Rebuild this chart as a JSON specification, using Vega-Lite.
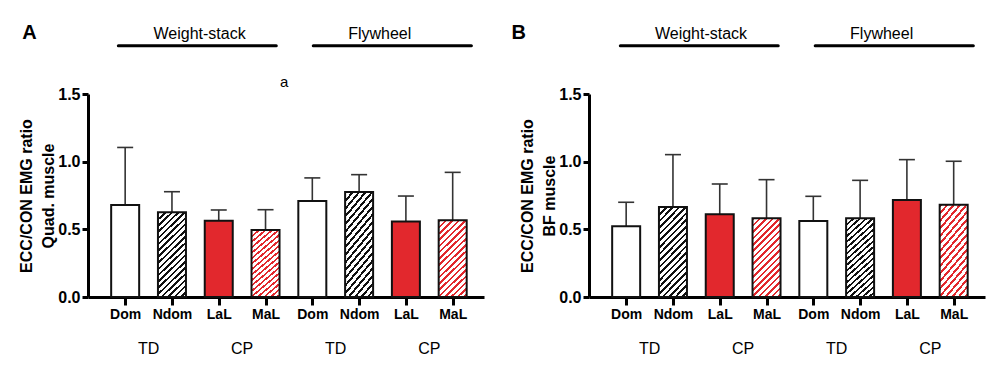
{
 "$schema": "https://vega.github.io/schema/vega-lite/v6.json",
 "padding": {"left": 18, "top": 22, "right": 2, "bottom": 2},
 "background": "white",
 "spacing": 27,
 "datasets": {
  "bars": [
   {"panel":"A","idx":1,"cond":"Dom","mean":0.68,"upper":1.105},
   {"panel":"A","idx":2,"cond":"Ndom","mean":0.626,"upper":0.778},
   {"panel":"A","idx":3,"cond":"LaL","mean":0.564,"upper":0.643},
   {"panel":"A","idx":4,"cond":"MaL","mean":0.495,"upper":0.645},
   {"panel":"A","idx":5,"cond":"Dom","mean":0.71,"upper":0.88},
   {"panel":"A","idx":6,"cond":"Ndom","mean":0.776,"upper":0.904},
   {"panel":"A","idx":7,"cond":"LaL","mean":0.557,"upper":0.746},
   {"panel":"A","idx":8,"cond":"MaL","mean":0.567,"upper":0.921},
   {"panel":"B","idx":1,"cond":"Dom","mean":0.522,"upper":0.70},
   {"panel":"B","idx":2,"cond":"Ndom","mean":0.665,"upper":1.052},
   {"panel":"B","idx":3,"cond":"LaL","mean":0.611,"upper":0.835},
   {"panel":"B","idx":4,"cond":"MaL","mean":0.582,"upper":0.867},
   {"panel":"B","idx":5,"cond":"Dom","mean":0.562,"upper":0.744},
   {"panel":"B","idx":6,"cond":"Ndom","mean":0.582,"upper":0.862},
   {"panel":"B","idx":7,"cond":"LaL","mean":0.717,"upper":1.015},
   {"panel":"B","idx":8,"cond":"MaL","mean":0.682,"upper":1.003}
  ],
  "heads": [
   {"panel":"A","label":"Weight-stack","xt":2.59,"x1":0.854,"x2":4.23},
   {"panel":"A","label":"Flywheel","xt":6.44,"x1":5.02,"x2":8.40},
   {"panel":"B","label":"Weight-stack","xt":2.6,"x1":0.875,"x2":4.25},
   {"panel":"B","label":"Flywheel","xt":6.46,"x1":5.04,"x2":8.42}
  ],
  "groups": [
   {"panel":"A","label":"TD","x":1.5},{"panel":"A","label":"CP","x":3.5},
   {"panel":"A","label":"TD","x":5.5},{"panel":"A","label":"CP","x":7.5},
   {"panel":"B","label":"TD","x":1.5},{"panel":"B","label":"CP","x":3.5},
   {"panel":"B","label":"TD","x":5.5},{"panel":"B","label":"CP","x":7.5}
  ],
  "letters": [
   {"panel":"A","label":"A","x":-1.2},
   {"panel":"B","label":"B","x":-1.45}
  ],
  "notes": [
   {"panel":"A","label":"a","x":4.40}
  ]
 },
 "config": {
  "view": {"stroke": null},
  "font": "Liberation Sans",
  "text": {"font": "Liberation Sans", "color": "#000"},
  "axis": {"domainColor":"#000","domainWidth":3,"tickColor":"#000","tickWidth":3,"labelColor":"#000","labelFont":"Liberation Sans","labelFontWeight":"bold","grid":false,"titleFont":"Liberation Sans","titleFontWeight":"bold","titleColor":"#000","labelFlush":false},
  "axisX": {"tickSize":8,"labelFontSize":14,"labelPadding":2},
  "axisY": {"tickSize":6,"labelFontSize":16,"labelPadding":2,"titleFontSize":16,"titleLineHeight":22,"titlePadding":1}
 },
 "hconcat": [
  {
   "width": 396, "height": 203,
   "data": {"name": "bars"},
   "transform": [{"filter": "datum.panel==='A'"}],
   "encoding": {
    "x": {"field": "idx", "type": "quantitative", "scale": {"domain": [0.3125, 8.5625], "nice": false, "zero": false},
          "axis": {"values": [1,2,3,4,5,6,7,8], "labelExpr": "['Dom','Ndom','LaL','MaL'][(datum.value-1)%4]", "title": null}}
   },
   "layer": [
    {"mark": {"type": "rule", "color": "#333", "strokeWidth": 1.6},
     "encoding": {"y": {"field": "mean", "type": "quantitative", "scale": {"domain": [0, 1.5], "nice": false, "zero": true},
       "axis": {"values": [0, 0.5, 1, 1.5], "format": ".1f", "title": ["ECC/CON EMG ratio", "Quad. muscle"]}},
      "y2": {"field": "upper"}}},
    {"transform": [{"filter": "datum.cond==='Dom'||datum.cond==='LaL'"}],
     "mark": {"type": "bar", "orient": "vertical", "size": 28, "stroke": "#111", "strokeWidth": 2},
     "encoding": {"y": {"field": "mean", "type": "quantitative"},
      "fill": {"condition": {"test": "datum.cond==='LaL'", "value": "#e2282d"}, "value": "#ffffff"}}},
    {"transform": [{"filter": "datum.cond==='Ndom'"}],
     "mark": {"type": "bar", "orient": "vertical", "size": 28, "stroke": "#111", "strokeWidth": 2,
      "fill": {"gradient":"linear","x1":0,"y1":0,"x2":0.3809,"y2":1.197,"stops":[
    {"offset":0,"color":"#111"},{"offset":0.0222,"color":"#111"},{"offset":0.0222,"color":"#fff"},{"offset":0.0556,"color":"#fff"},
    {"offset":0.0556,"color":"#111"},{"offset":0.0778,"color":"#111"},{"offset":0.0778,"color":"#fff"},{"offset":0.1111,"color":"#fff"},
    {"offset":0.1111,"color":"#111"},{"offset":0.1333,"color":"#111"},{"offset":0.1333,"color":"#fff"},{"offset":0.1667,"color":"#fff"},
    {"offset":0.1667,"color":"#111"},{"offset":0.1889,"color":"#111"},{"offset":0.1889,"color":"#fff"},{"offset":0.2222,"color":"#fff"},
    {"offset":0.2222,"color":"#111"},{"offset":0.2444,"color":"#111"},{"offset":0.2444,"color":"#fff"},{"offset":0.2778,"color":"#fff"},
    {"offset":0.2778,"color":"#111"},{"offset":0.3,"color":"#111"},{"offset":0.3,"color":"#fff"},{"offset":0.3333,"color":"#fff"},
    {"offset":0.3333,"color":"#111"},{"offset":0.3556,"color":"#111"},{"offset":0.3556,"color":"#fff"},{"offset":0.3889,"color":"#fff"},
    {"offset":0.3889,"color":"#111"},{"offset":0.4111,"color":"#111"},{"offset":0.4111,"color":"#fff"},{"offset":0.4444,"color":"#fff"},
    {"offset":0.4444,"color":"#111"},{"offset":0.4667,"color":"#111"},{"offset":0.4667,"color":"#fff"},{"offset":0.5,"color":"#fff"},
    {"offset":0.5,"color":"#111"},{"offset":0.5222,"color":"#111"},{"offset":0.5222,"color":"#fff"},{"offset":0.5556,"color":"#fff"},
    {"offset":0.5556,"color":"#111"},{"offset":0.5778,"color":"#111"},{"offset":0.5778,"color":"#fff"},{"offset":0.6111,"color":"#fff"},
    {"offset":0.6111,"color":"#111"},{"offset":0.6333,"color":"#111"},{"offset":0.6333,"color":"#fff"},{"offset":0.6667,"color":"#fff"},
    {"offset":0.6667,"color":"#111"},{"offset":0.6889,"color":"#111"},{"offset":0.6889,"color":"#fff"},{"offset":0.7222,"color":"#fff"},
    {"offset":0.7222,"color":"#111"},{"offset":0.7444,"color":"#111"},{"offset":0.7444,"color":"#fff"},{"offset":0.7778,"color":"#fff"},
    {"offset":0.7778,"color":"#111"},{"offset":0.8,"color":"#111"},{"offset":0.8,"color":"#fff"},{"offset":0.8333,"color":"#fff"},
    {"offset":0.8333,"color":"#111"},{"offset":0.8556,"color":"#111"},{"offset":0.8556,"color":"#fff"},{"offset":0.8889,"color":"#fff"},
    {"offset":0.8889,"color":"#111"},{"offset":0.9111,"color":"#111"},{"offset":0.9111,"color":"#fff"},{"offset":0.9444,"color":"#fff"},
    {"offset":0.9444,"color":"#111"},{"offset":0.9667,"color":"#111"},{"offset":0.9667,"color":"#fff"},{"offset":1,"color":"#fff"}]}},
     "encoding": {"y": {"field": "mean", "type": "quantitative"}}},
    {"transform": [{"filter": "datum.cond==='MaL'"}],
     "mark": {"type": "bar", "orient": "vertical", "size": 28, "stroke": "#111", "strokeWidth": 2,
      "fill": {"gradient":"linear","x1":0,"y1":0,"x2":0.4623,"y2":1.3045,"stops":[
    {"offset":0,"color":"#e2282d"},{"offset":0.0222,"color":"#e2282d"},{"offset":0.0222,"color":"#fff"},{"offset":0.0556,"color":"#fff"},
    {"offset":0.0556,"color":"#e2282d"},{"offset":0.0778,"color":"#e2282d"},{"offset":0.0778,"color":"#fff"},{"offset":0.1111,"color":"#fff"},
    {"offset":0.1111,"color":"#e2282d"},{"offset":0.1333,"color":"#e2282d"},{"offset":0.1333,"color":"#fff"},{"offset":0.1667,"color":"#fff"},
    {"offset":0.1667,"color":"#e2282d"},{"offset":0.1889,"color":"#e2282d"},{"offset":0.1889,"color":"#fff"},{"offset":0.2222,"color":"#fff"},
    {"offset":0.2222,"color":"#e2282d"},{"offset":0.2444,"color":"#e2282d"},{"offset":0.2444,"color":"#fff"},{"offset":0.2778,"color":"#fff"},
    {"offset":0.2778,"color":"#e2282d"},{"offset":0.3,"color":"#e2282d"},{"offset":0.3,"color":"#fff"},{"offset":0.3333,"color":"#fff"},
    {"offset":0.3333,"color":"#e2282d"},{"offset":0.3556,"color":"#e2282d"},{"offset":0.3556,"color":"#fff"},{"offset":0.3889,"color":"#fff"},
    {"offset":0.3889,"color":"#e2282d"},{"offset":0.4111,"color":"#e2282d"},{"offset":0.4111,"color":"#fff"},{"offset":0.4444,"color":"#fff"},
    {"offset":0.4444,"color":"#e2282d"},{"offset":0.4667,"color":"#e2282d"},{"offset":0.4667,"color":"#fff"},{"offset":0.5,"color":"#fff"},
    {"offset":0.5,"color":"#e2282d"},{"offset":0.5222,"color":"#e2282d"},{"offset":0.5222,"color":"#fff"},{"offset":0.5556,"color":"#fff"},
    {"offset":0.5556,"color":"#e2282d"},{"offset":0.5778,"color":"#e2282d"},{"offset":0.5778,"color":"#fff"},{"offset":0.6111,"color":"#fff"},
    {"offset":0.6111,"color":"#e2282d"},{"offset":0.6333,"color":"#e2282d"},{"offset":0.6333,"color":"#fff"},{"offset":0.6667,"color":"#fff"},
    {"offset":0.6667,"color":"#e2282d"},{"offset":0.6889,"color":"#e2282d"},{"offset":0.6889,"color":"#fff"},{"offset":0.7222,"color":"#fff"},
    {"offset":0.7222,"color":"#e2282d"},{"offset":0.7444,"color":"#e2282d"},{"offset":0.7444,"color":"#fff"},{"offset":0.7778,"color":"#fff"},
    {"offset":0.7778,"color":"#e2282d"},{"offset":0.8,"color":"#e2282d"},{"offset":0.8,"color":"#fff"},{"offset":0.8333,"color":"#fff"},
    {"offset":0.8333,"color":"#e2282d"},{"offset":0.8556,"color":"#e2282d"},{"offset":0.8556,"color":"#fff"},{"offset":0.8889,"color":"#fff"},
    {"offset":0.8889,"color":"#e2282d"},{"offset":0.9111,"color":"#e2282d"},{"offset":0.9111,"color":"#fff"},{"offset":0.9444,"color":"#fff"},
    {"offset":0.9444,"color":"#e2282d"},{"offset":0.9667,"color":"#e2282d"},{"offset":0.9667,"color":"#fff"},{"offset":1,"color":"#fff"}]}},
     "encoding": {"y": {"field": "mean", "type": "quantitative"}}},
    {"mark": {"type": "tick", "orient": "horizontal", "size": 16, "thickness": 1.6, "color": "#333", "opacity": 1},
     "encoding": {"y": {"field": "upper", "type": "quantitative"}}},
    {"data": {"name": "heads"}, "transform": [{"filter": "datum.panel==='A'"}],
     "mark": {"type": "text", "fontSize": 16, "baseline": "alphabetic", "align": "center"},
     "encoding": {"x": {"field": "xt", "type": "quantitative"}, "y": {"datum": 1.906, "type": "quantitative"}, "text": {"field": "label"}}},
    {"data": {"name": "heads"}, "transform": [{"filter": "datum.panel==='A'"}],
     "mark": {"type": "rule", "strokeWidth": 3, "strokeCap": "round", "color": "#000"},
     "encoding": {"x": {"field": "x1", "type": "quantitative"}, "x2": {"field": "x2"}, "y": {"datum": 1.857, "type": "quantitative"}}},
    {"data": {"name": "groups"}, "transform": [{"filter": "datum.panel==='A'"}],
     "mark": {"type": "text", "fontSize": 16, "baseline": "alphabetic", "align": "center"},
     "encoding": {"x": {"field": "x", "type": "quantitative"}, "y": {"datum": -0.42, "type": "quantitative"}, "text": {"field": "label"}}},
    {"data": {"name": "letters"}, "transform": [{"filter": "datum.panel==='A'"}],
     "mark": {"type": "text", "fontSize": 20, "fontWeight": "bold", "baseline": "alphabetic", "align": "left"},
     "encoding": {"x": {"field": "x", "type": "quantitative"}, "y": {"datum": 1.91, "type": "quantitative"}, "text": {"field": "label"}}},
    {"data": {"name": "notes"}, "transform": [{"filter": "datum.panel==='A'"}],
     "mark": {"type": "text", "fontSize": 15, "baseline": "alphabetic", "align": "center"},
     "encoding": {"x": {"field": "x", "type": "quantitative"}, "y": {"datum": 1.552, "type": "quantitative"}, "text": {"field": "label"}}}
   ]
  },
  {
   "width": 396, "height": 203,
   "data": {"name": "bars"},
   "transform": [{"filter": "datum.panel==='B'"}],
   "encoding": {
    "x": {"field": "idx", "type": "quantitative", "scale": {"domain": [0.3125, 8.5625], "nice": false, "zero": false},
          "axis": {"values": [1,2,3,4,5,6,7,8], "labelExpr": "['Dom','Ndom','LaL','MaL'][(datum.value-1)%4]", "title": null}}
   },
   "layer": [
    {"mark": {"type": "rule", "color": "#333", "strokeWidth": 1.6},
     "encoding": {"y": {"field": "mean", "type": "quantitative", "scale": {"domain": [0, 1.5], "nice": false, "zero": true},
       "axis": {"values": [0, 0.5, 1, 1.5], "format": ".1f", "title": ["ECC/CON EMG ratio", "BF muscle"]}},
      "y2": {"field": "upper"}}},
    {"transform": [{"filter": "datum.cond==='Dom'||datum.cond==='LaL'"}],
     "mark": {"type": "bar", "orient": "vertical", "size": 28, "stroke": "#111", "strokeWidth": 2},
     "encoding": {"y": {"field": "mean", "type": "quantitative"},
      "fill": {"condition": {"test": "datum.cond==='LaL'", "value": "#e2282d"}, "value": "#ffffff"}}},
    {"transform": [{"filter": "datum.cond==='Ndom'"}],
     "mark": {"type": "bar", "orient": "vertical", "size": 28, "stroke": "#111", "strokeWidth": 2,
      "fill": {"gradient":"linear","x1":0,"y1":0,"x2":0.3809,"y2":1.197,"stops":[
    {"offset":0,"color":"#111"},{"offset":0.0222,"color":"#111"},{"offset":0.0222,"color":"#fff"},{"offset":0.0556,"color":"#fff"},
    {"offset":0.0556,"color":"#111"},{"offset":0.0778,"color":"#111"},{"offset":0.0778,"color":"#fff"},{"offset":0.1111,"color":"#fff"},
    {"offset":0.1111,"color":"#111"},{"offset":0.1333,"color":"#111"},{"offset":0.1333,"color":"#fff"},{"offset":0.1667,"color":"#fff"},
    {"offset":0.1667,"color":"#111"},{"offset":0.1889,"color":"#111"},{"offset":0.1889,"color":"#fff"},{"offset":0.2222,"color":"#fff"},
    {"offset":0.2222,"color":"#111"},{"offset":0.2444,"color":"#111"},{"offset":0.2444,"color":"#fff"},{"offset":0.2778,"color":"#fff"},
    {"offset":0.2778,"color":"#111"},{"offset":0.3,"color":"#111"},{"offset":0.3,"color":"#fff"},{"offset":0.3333,"color":"#fff"},
    {"offset":0.3333,"color":"#111"},{"offset":0.3556,"color":"#111"},{"offset":0.3556,"color":"#fff"},{"offset":0.3889,"color":"#fff"},
    {"offset":0.3889,"color":"#111"},{"offset":0.4111,"color":"#111"},{"offset":0.4111,"color":"#fff"},{"offset":0.4444,"color":"#fff"},
    {"offset":0.4444,"color":"#111"},{"offset":0.4667,"color":"#111"},{"offset":0.4667,"color":"#fff"},{"offset":0.5,"color":"#fff"},
    {"offset":0.5,"color":"#111"},{"offset":0.5222,"color":"#111"},{"offset":0.5222,"color":"#fff"},{"offset":0.5556,"color":"#fff"},
    {"offset":0.5556,"color":"#111"},{"offset":0.5778,"color":"#111"},{"offset":0.5778,"color":"#fff"},{"offset":0.6111,"color":"#fff"},
    {"offset":0.6111,"color":"#111"},{"offset":0.6333,"color":"#111"},{"offset":0.6333,"color":"#fff"},{"offset":0.6667,"color":"#fff"},
    {"offset":0.6667,"color":"#111"},{"offset":0.6889,"color":"#111"},{"offset":0.6889,"color":"#fff"},{"offset":0.7222,"color":"#fff"},
    {"offset":0.7222,"color":"#111"},{"offset":0.7444,"color":"#111"},{"offset":0.7444,"color":"#fff"},{"offset":0.7778,"color":"#fff"},
    {"offset":0.7778,"color":"#111"},{"offset":0.8,"color":"#111"},{"offset":0.8,"color":"#fff"},{"offset":0.8333,"color":"#fff"},
    {"offset":0.8333,"color":"#111"},{"offset":0.8556,"color":"#111"},{"offset":0.8556,"color":"#fff"},{"offset":0.8889,"color":"#fff"},
    {"offset":0.8889,"color":"#111"},{"offset":0.9111,"color":"#111"},{"offset":0.9111,"color":"#fff"},{"offset":0.9444,"color":"#fff"},
    {"offset":0.9444,"color":"#111"},{"offset":0.9667,"color":"#111"},{"offset":0.9667,"color":"#fff"},{"offset":1,"color":"#fff"}]}},
     "encoding": {"y": {"field": "mean", "type": "quantitative"}}},
    {"transform": [{"filter": "datum.cond==='MaL'"}],
     "mark": {"type": "bar", "orient": "vertical", "size": 28, "stroke": "#111", "strokeWidth": 2,
      "fill": {"gradient":"linear","x1":0,"y1":0,"x2":0.4623,"y2":1.3045,"stops":[
    {"offset":0,"color":"#e2282d"},{"offset":0.0222,"color":"#e2282d"},{"offset":0.0222,"color":"#fff"},{"offset":0.0556,"color":"#fff"},
    {"offset":0.0556,"color":"#e2282d"},{"offset":0.0778,"color":"#e2282d"},{"offset":0.0778,"color":"#fff"},{"offset":0.1111,"color":"#fff"},
    {"offset":0.1111,"color":"#e2282d"},{"offset":0.1333,"color":"#e2282d"},{"offset":0.1333,"color":"#fff"},{"offset":0.1667,"color":"#fff"},
    {"offset":0.1667,"color":"#e2282d"},{"offset":0.1889,"color":"#e2282d"},{"offset":0.1889,"color":"#fff"},{"offset":0.2222,"color":"#fff"},
    {"offset":0.2222,"color":"#e2282d"},{"offset":0.2444,"color":"#e2282d"},{"offset":0.2444,"color":"#fff"},{"offset":0.2778,"color":"#fff"},
    {"offset":0.2778,"color":"#e2282d"},{"offset":0.3,"color":"#e2282d"},{"offset":0.3,"color":"#fff"},{"offset":0.3333,"color":"#fff"},
    {"offset":0.3333,"color":"#e2282d"},{"offset":0.3556,"color":"#e2282d"},{"offset":0.3556,"color":"#fff"},{"offset":0.3889,"color":"#fff"},
    {"offset":0.3889,"color":"#e2282d"},{"offset":0.4111,"color":"#e2282d"},{"offset":0.4111,"color":"#fff"},{"offset":0.4444,"color":"#fff"},
    {"offset":0.4444,"color":"#e2282d"},{"offset":0.4667,"color":"#e2282d"},{"offset":0.4667,"color":"#fff"},{"offset":0.5,"color":"#fff"},
    {"offset":0.5,"color":"#e2282d"},{"offset":0.5222,"color":"#e2282d"},{"offset":0.5222,"color":"#fff"},{"offset":0.5556,"color":"#fff"},
    {"offset":0.5556,"color":"#e2282d"},{"offset":0.5778,"color":"#e2282d"},{"offset":0.5778,"color":"#fff"},{"offset":0.6111,"color":"#fff"},
    {"offset":0.6111,"color":"#e2282d"},{"offset":0.6333,"color":"#e2282d"},{"offset":0.6333,"color":"#fff"},{"offset":0.6667,"color":"#fff"},
    {"offset":0.6667,"color":"#e2282d"},{"offset":0.6889,"color":"#e2282d"},{"offset":0.6889,"color":"#fff"},{"offset":0.7222,"color":"#fff"},
    {"offset":0.7222,"color":"#e2282d"},{"offset":0.7444,"color":"#e2282d"},{"offset":0.7444,"color":"#fff"},{"offset":0.7778,"color":"#fff"},
    {"offset":0.7778,"color":"#e2282d"},{"offset":0.8,"color":"#e2282d"},{"offset":0.8,"color":"#fff"},{"offset":0.8333,"color":"#fff"},
    {"offset":0.8333,"color":"#e2282d"},{"offset":0.8556,"color":"#e2282d"},{"offset":0.8556,"color":"#fff"},{"offset":0.8889,"color":"#fff"},
    {"offset":0.8889,"color":"#e2282d"},{"offset":0.9111,"color":"#e2282d"},{"offset":0.9111,"color":"#fff"},{"offset":0.9444,"color":"#fff"},
    {"offset":0.9444,"color":"#e2282d"},{"offset":0.9667,"color":"#e2282d"},{"offset":0.9667,"color":"#fff"},{"offset":1,"color":"#fff"}]}},
     "encoding": {"y": {"field": "mean", "type": "quantitative"}}},
    {"mark": {"type": "tick", "orient": "horizontal", "size": 16, "thickness": 1.6, "color": "#333", "opacity": 1},
     "encoding": {"y": {"field": "upper", "type": "quantitative"}}},
    {"data": {"name": "heads"}, "transform": [{"filter": "datum.panel==='B'"}],
     "mark": {"type": "text", "fontSize": 16, "baseline": "alphabetic", "align": "center"},
     "encoding": {"x": {"field": "xt", "type": "quantitative"}, "y": {"datum": 1.906, "type": "quantitative"}, "text": {"field": "label"}}},
    {"data": {"name": "heads"}, "transform": [{"filter": "datum.panel==='B'"}],
     "mark": {"type": "rule", "strokeWidth": 3, "strokeCap": "round", "color": "#000"},
     "encoding": {"x": {"field": "x1", "type": "quantitative"}, "x2": {"field": "x2"}, "y": {"datum": 1.857, "type": "quantitative"}}},
    {"data": {"name": "groups"}, "transform": [{"filter": "datum.panel==='B'"}],
     "mark": {"type": "text", "fontSize": 16, "baseline": "alphabetic", "align": "center"},
     "encoding": {"x": {"field": "x", "type": "quantitative"}, "y": {"datum": -0.42, "type": "quantitative"}, "text": {"field": "label"}}},
    {"data": {"name": "letters"}, "transform": [{"filter": "datum.panel==='B'"}],
     "mark": {"type": "text", "fontSize": 20, "fontWeight": "bold", "baseline": "alphabetic", "align": "left"},
     "encoding": {"x": {"field": "x", "type": "quantitative"}, "y": {"datum": 1.91, "type": "quantitative"}, "text": {"field": "label"}}}
   ]
  }
 ]
}
